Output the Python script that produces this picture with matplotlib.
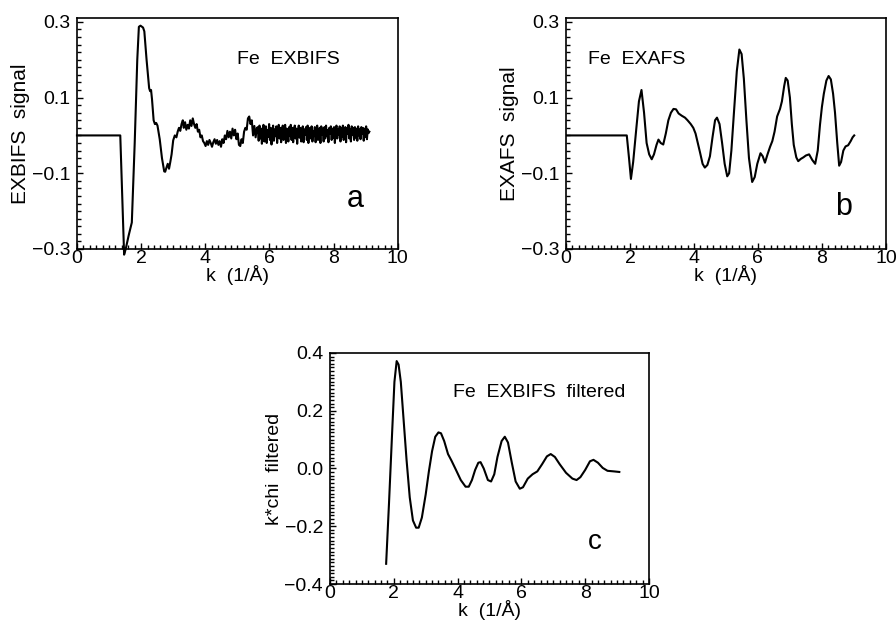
import numpy as np
import matplotlib
matplotlib.use("Agg")
import matplotlib.pyplot as plt
from matplotlib.ticker import MultipleLocator, FuncFormatter

plt.rcParams['font.family'] = ['Liberation Sans', 'DejaVu Sans']

# panel a: EXBIFS signal
k_a_head = [0.0, 1.35, 1.47, 1.52, 1.61, 1.71, 1.80, 1.88, 1.93, 1.98, 2.06, 2.10,
            2.17, 2.25, 2.28, 2.31, 2.34, 2.39, 2.43, 2.47, 2.51, 2.58, 2.65, 2.72,
            2.75, 2.79, 2.83, 2.87, 2.91, 2.95, 3.00, 3.05, 3.10, 3.14, 3.18, 3.22,
            3.26, 3.30, 3.33, 3.37, 3.41, 3.45, 3.49, 3.53, 3.57, 3.61, 3.65, 3.69,
            3.73, 3.77, 3.81, 3.85, 3.89, 3.93, 3.97, 4.01, 4.05, 4.09, 4.13, 4.17,
            4.21, 4.25, 4.29, 4.33, 4.37, 4.41, 4.45, 4.49, 4.53, 4.57, 4.61, 4.65,
            4.69, 4.73, 4.77, 4.81, 4.85, 4.89, 4.93, 4.97, 5.01, 5.05, 5.09, 5.13,
            5.17, 5.21, 5.25, 5.29, 5.33, 5.37, 5.41, 5.45, 5.49, 5.53, 5.57, 5.61]
s_a_head = [0.0, 0.0, -0.315, -0.30, -0.265, -0.23, -0.02, 0.20, 0.287, 0.29, 0.285, 0.275,
            0.20, 0.125, 0.117, 0.12, 0.095, 0.04, 0.03, 0.033, 0.026, -0.01, -0.06, -0.095,
            -0.096, -0.085, -0.075, -0.088, -0.07, -0.05, -0.013, 0.0, -0.005, 0.01, 0.02, 0.012,
            0.03, 0.04, 0.02, 0.035, 0.015, 0.028, 0.018, 0.04, 0.025, 0.045, 0.03, 0.02,
            0.03, 0.01, 0.015, -0.005, 0.0, -0.015, -0.02, -0.028, -0.015, -0.025, -0.012, -0.02,
            -0.03, -0.018, -0.01, -0.022, -0.012, -0.025, -0.015, -0.03, -0.01, -0.02, 0.0, -0.01,
            0.012, -0.005, 0.01, -0.008, 0.018, 0.0, 0.015, -0.01, 0.005, -0.025, -0.028, -0.01,
            -0.02, 0.01, 0.02, 0.015, 0.045, 0.05, 0.03, 0.04, 0.0, 0.025, -0.005, 0.02]
k_a_tail_start, k_a_tail_step = 5.64, 0.025
s_a_tail = [0.022, -0.014, 0.026, -0.008, 0.018, -0.022, 0.010, 0.028, -0.016, 0.006,
            0.024, -0.020, 0.014, -0.004, 0.030, -0.012, 0.020, -0.024, 0.008, 0.026,
            -0.014, 0.016, -0.002, 0.024, -0.020, 0.010, 0.028, -0.008, 0.020, -0.018,
            0.012, 0.026, -0.012, 0.004, 0.028, -0.020, 0.018, 0.006, -0.016, 0.022,
            -0.002, 0.028, -0.012, 0.020, -0.018, 0.010, 0.026, -0.008, 0.018, -0.022,
            0.012, 0.026, -0.006, 0.020, -0.016, 0.006, 0.024, -0.018, 0.016, 0.002,
            0.022, -0.012, 0.026, -0.020, 0.010, 0.020, -0.008, 0.024, -0.016, 0.012,
            -0.002, 0.022, -0.018, 0.016, 0.026, -0.012, 0.006, 0.020, -0.020, 0.024,
            0.002, 0.018, -0.016, 0.022, -0.008, 0.026, -0.002, 0.014, -0.018, 0.020,
            0.004, 0.024, -0.012, 0.018, -0.006, 0.022, -0.020, 0.012, 0.026, -0.008,
            0.016, 0.002, 0.024, -0.016, 0.020, -0.004, 0.026, -0.012, 0.012, 0.022,
            -0.018, 0.020, 0.004, 0.028, -0.008, 0.016, -0.016, 0.024, 0.002, 0.020,
            -0.012, 0.022, -0.006, 0.018, -0.014, 0.024, 0.000, 0.016, -0.010, 0.022,
            0.004, 0.020, -0.014, 0.018, -0.004, 0.024, -0.010, 0.016, 0.006, 0.010]

# panel b: EXAFS signal
k_b = [0.0, 1.90, 1.97, 2.03, 2.10, 2.20, 2.28, 2.36, 2.44, 2.52, 2.60, 2.68, 2.75,
       2.83, 2.89, 2.96, 3.04, 3.12, 3.20, 3.28, 3.36, 3.44, 3.52, 3.62, 3.72, 3.80,
       3.90, 3.98, 4.05, 4.12, 4.19, 4.27, 4.34, 4.42, 4.50, 4.58, 4.66, 4.72, 4.80,
       4.88, 4.96, 5.04, 5.10, 5.17, 5.25, 5.34, 5.42, 5.49, 5.56, 5.64, 5.72, 5.82,
       5.90, 5.98, 6.08, 6.15, 6.22, 6.30, 6.38, 6.45, 6.52, 6.60, 6.69, 6.75, 6.82,
       6.87, 6.93, 7.00, 7.06, 7.12, 7.20, 7.26, 7.34, 7.42, 7.50, 7.60, 7.70, 7.79,
       7.87, 7.94, 8.00, 8.06, 8.14, 8.21, 8.28, 8.35, 8.41, 8.48, 8.54, 8.60, 8.67,
       8.74, 8.82, 8.90, 8.96, 9.01]
s_b = [0.0, 0.0, -0.06, -0.115, -0.07, 0.02, 0.09, 0.12, 0.06, -0.02, -0.05, -0.063, -0.05,
       -0.025, -0.011, -0.02, -0.024, 0.005, 0.04, 0.06, 0.07, 0.069, 0.058, 0.052, 0.047, 0.04,
       0.03, 0.02, 0.005, -0.02, -0.045, -0.075, -0.085, -0.078, -0.055, -0.005, 0.04, 0.047, 0.03,
       -0.02, -0.075, -0.108, -0.10, -0.04, 0.06, 0.17, 0.227, 0.215, 0.15, 0.04, -0.06, -0.123,
       -0.11, -0.075, -0.047, -0.055, -0.072, -0.05, -0.03, -0.015, 0.01, 0.05, 0.07, 0.09, 0.13,
       0.152, 0.145, 0.10, 0.03, -0.025, -0.058, -0.068, -0.062, -0.058, -0.053, -0.05, -0.065, -0.075,
       -0.04, 0.028, 0.075, 0.11, 0.145, 0.157, 0.148, 0.11, 0.06, -0.02, -0.08, -0.07, -0.04,
       -0.029, -0.026, -0.015, -0.005, 0.0]

# panel c: filtered k*chi
k_c = [1.76, 1.85, 1.95, 2.02, 2.09, 2.15, 2.22, 2.30, 2.40, 2.50, 2.60, 2.70, 2.78,
       2.88, 3.00, 3.10, 3.20, 3.30, 3.40, 3.48, 3.58, 3.70, 3.81, 3.95, 4.10, 4.25,
       4.35, 4.45, 4.55, 4.65, 4.72, 4.82, 4.95, 5.05, 5.15, 5.25, 5.38, 5.48, 5.58,
       5.70, 5.82, 5.95, 6.05, 6.20, 6.35, 6.50, 6.65, 6.80, 6.92, 7.05, 7.20, 7.40,
       7.60, 7.73, 7.85, 8.00, 8.15, 8.26, 8.40, 8.55, 8.70, 8.90, 9.07]
s_c = [-0.33, -0.12, 0.13, 0.30, 0.372, 0.36, 0.30, 0.18, 0.03, -0.10, -0.18, -0.205, -0.205,
       -0.17, -0.09, -0.01, 0.06, 0.11, 0.125, 0.122, 0.095, 0.05, 0.027, -0.005, -0.04, -0.063,
       -0.063, -0.04, -0.005, 0.02, 0.022, 0.0, -0.04, -0.045, -0.02, 0.04, 0.095, 0.11, 0.09,
       0.02, -0.045, -0.07, -0.065, -0.035, -0.02, -0.01, 0.015, 0.042, 0.05, 0.04, 0.015, -0.015,
       -0.035, -0.04, -0.03, -0.005, 0.025, 0.03, 0.02, 0.002, -0.008, -0.01, -0.012]

k_a = k_a_head + list(k_a_tail_start + k_a_tail_step * np.arange(len(s_a_tail)))
s_a = s_a_head + s_a_tail

fig = plt.figure(figsize=(8.96, 6.24), dpi=100)
ax_a = fig.add_axes([0.0859, 0.601, 0.358, 0.370])
ax_b = fig.add_axes([0.6317, 0.601, 0.357, 0.370])
ax_c = fig.add_axes([0.3683, 0.0641, 0.356, 0.3702])

minus_fmt = FuncFormatter(lambda v, p: ('%.1f' % v).replace('-', '\u2212'))


def style(ax, ylim, ymin):
    ax.set_xlim(0, 10)
    ax.set_ylim(*ylim)
    ax.xaxis.set_major_locator(MultipleLocator(2))
    ax.xaxis.set_minor_locator(MultipleLocator(0.2))
    ax.yaxis.set_minor_locator(MultipleLocator(ymin))
    ax.yaxis.set_major_formatter(minus_fmt)
    ax.tick_params(which='both', direction='in', top=False, right=False,
                   labelsize=14, width=1.0)
    ax.tick_params(axis='x', which='both', pad=1)
    ax.tick_params(axis='y', which='both', pad=5)
    ax.tick_params(which='major', length=4)
    ax.tick_params(which='minor', length=3)
    for sp in ax.spines.values():
        sp.set_linewidth(1.2)
    ax.set_xlabel('k  (1/Å)', fontsize=14, labelpad=-2)


ax_a.plot(k_a, s_a, color='black', lw=1.5, clip_on=False)
style(ax_a, (-0.3, 0.31), 0.02)
ax_a.set_yticks([-0.3, -0.1, 0.1, 0.3])
ax_a.set_ylabel('EXBIFS  signal', fontsize=15, labelpad=1)
ax_a.text(5.0, 0.2, 'Fe  EXBIFS', fontsize=14, va='center')
ax_a.text(8.4, -0.19, 'a', fontsize=22)

ax_b.plot(k_b, s_b, color='black', lw=1.5)
style(ax_b, (-0.3, 0.31), 0.02)
ax_b.set_yticks([-0.3, -0.1, 0.1, 0.3])
ax_b.set_ylabel('EXAFS  signal', fontsize=15, labelpad=1)
ax_b.text(0.69, 0.2, 'Fe  EXAFS', fontsize=14, va='center')
ax_b.text(8.4, -0.21, 'b', fontsize=22)

ax_c.plot(k_c, s_c, color='black', lw=1.5)
style(ax_c, (-0.4, 0.4), 0.0125)
ax_c.set_yticks([-0.4, -0.2, 0.0, 0.2, 0.4])
ax_c.set_ylabel('k*chi  filtered', fontsize=14, labelpad=1)
ax_c.text(3.86, 0.263, 'Fe  EXBIFS  filtered', fontsize=14, va='center')
ax_c.text(8.1, -0.28, 'c', fontsize=20)

fig.savefig('out.png', dpi=100)
